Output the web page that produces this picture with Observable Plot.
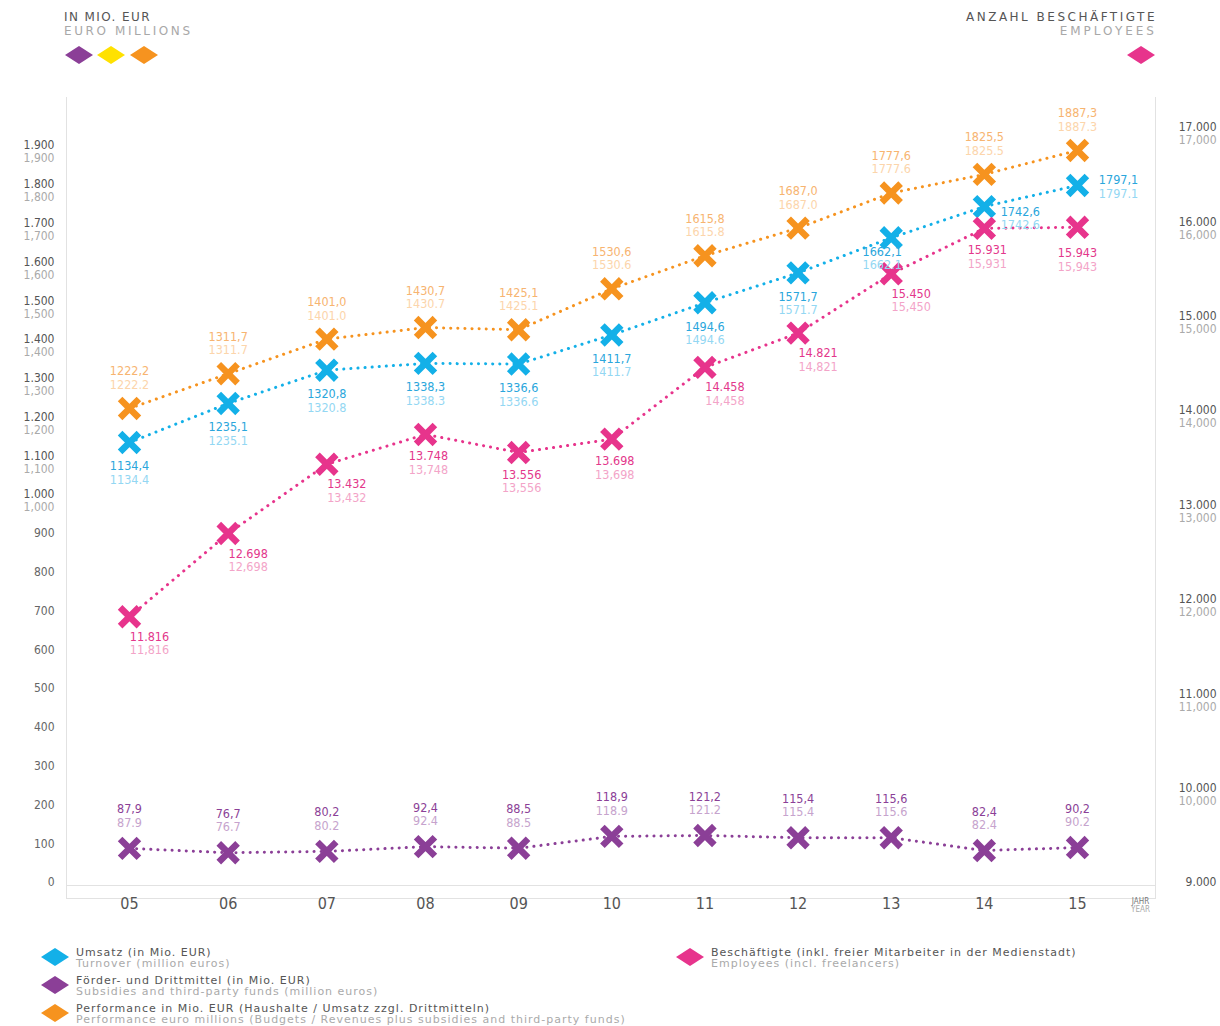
<!DOCTYPE html>
<html>
<head>
<meta charset="utf-8">
<script src="https://cdn.jsdelivr.net/npm/d3@7"></script>
<script src="https://cdn.jsdelivr.net/npm/@observablehq/plot@0.6"></script>
<style>
  html, body { margin: 0; padding: 0; background: #fff; }
  body { width: 1220px; height: 1026px; position: relative; overflow: hidden; font-family: "DejaVu Sans", sans-serif; }
  .hdr { position: absolute; font-size: 12px; line-height: 14px; white-space: nowrap; }
  .dark { color: #555; }
  .light { color: #a8a8a8; }
  #chart { position: absolute; left: 0; top: 85px; }
  .leg { position: absolute; font-size: 11px; line-height: 11px; white-space: nowrap; letter-spacing: 1px; }
  .leg .l1 { color: #555; }
  .leg .l2 { color: #aaa; }
  .dia { position: absolute; }
</style>
</head>
<body>
<div class="hdr" style="left:64px; top:10px;">
  <div class="dark" style="letter-spacing:1.4px;">IN MIO. EUR</div>
  <div class="light" style="letter-spacing:2.6px;">EURO MILLIONS</div>
</div>
<div class="hdr" style="right:63px; top:10px; text-align:right;">
  <div class="dark" style="letter-spacing:2.5px;">ANZAHL BESCHÄFTIGTE</div>
  <div class="light" style="letter-spacing:3px;">EMPLOYEES</div>
</div>
<div id="chart"></div>
<div id="hdrDiamonds"></div>
<div id="legend"></div>
<script>
// ---------- data ----------
const years = [2005, 2006, 2007, 2008, 2009, 2010, 2011, 2012, 2013, 2014, 2015];
const turnover = [1134.4, 1235.1, 1320.8, 1338.3, 1336.6, 1411.7, 1494.6, 1571.7, 1662.1, 1742.6, 1797.1];
const subsidies = [87.9, 76.7, 80.2, 92.4, 88.5, 118.9, 121.2, 115.4, 115.6, 82.4, 90.2];
const performance = [1222.2, 1311.7, 1401.0, 1430.7, 1425.1, 1530.6, 1615.8, 1687.0, 1777.6, 1825.5, 1887.3];
const employees = [11816, 12698, 13432, 13748, 13556, 13698, 14458, 14821, 15450, 15931, 15943];
const leftTicks = [0, 100, 200, 300, 400, 500, 600, 700, 800, 900, 1000, 1100, 1200, 1300, 1400, 1500, 1600, 1700, 1800, 1900];
const rightTicks = [9000, 10000, 11000, 12000, 13000, 14000, 15000, 16000, 17000];

const seriesNames = {
  turnover: ["Umsatz (in Mio. EUR)", "Turnover (million euros)"],
  subsidies: ["Förder- und Drittmittel (in Mio. EUR)", "Subsidies and third-party funds (million euros)"],
  performance: ["Performance in Mio. EUR (Haushalte / Umsatz zzgl. Drittmitteln)", "Performance euro millions (Budgets / Revenues plus subsidies and third-party funds)"],
  employees: ["Beschäftigte (inkl. freier Mitarbeiter in der Medienstadt)", "Employees (incl. freelancers)"]
};

// ---------- styles ----------
const C = {
  turnover: "#13b0e8", turnoverL: "#93d7f3", turnoverD: "#2aa6dc",
  subsidies: "#8b3f97", subsidiesL: "#c6a3cd", subsidiesD: "#8b3f97",
  performance: "#f6931f", performanceL: "#fcd5ab", performanceD: "#f7b470",
  employees: "#e7348c", employeesL: "#f3a4c8", employeesD: "#e3378b",
  yellow: "#ffe100"
};

// right axis (employees) mapped onto left axis units: 9.000 ↔ 0, 17.000 ↔ 1946.4
const EMP_BASE = 9000;
const EMP_SCALE = 1946.4 / 8000;
const empY = e => (e - EMP_BASE) * EMP_SCALE;

const rows = years.map((year, i) => ({
  year,
  turnover: turnover[i],
  subsidies: subsidies[i],
  performance: performance[i],
  employees: employees[i],
  empY: empY(employees[i])
}));

const fmt1 = v => v.toFixed(1);
const de1 = v => fmt1(v).replace(".", ",");
const deInt = v => d3.format(",")(v).replace(/,/g, ".");
const enInt = v => d3.format(",")(v);

const FONT = "'DejaVu Sans Condensed', 'DejaVu Sans', sans-serif";
const LBL = 12.5;

function labelPair(data, yKey, f1, f2, c1, c2, dx, dy, extra = {}) {
  return [
    Plot.text(data, {x: "year", y: yKey, text: d => f1(d), dx, dy, fill: c1, fontSize: LBL, letterSpacing: 0.6, ...extra}),
    Plot.text(data, {x: "year", y: yKey, text: d => f2(d), dx, dy: dy + 13.5, fill: c2, fontSize: LBL, letterSpacing: 0.6, ...extra})
  ];
}

// label placement per year (style only)
const pinkRight = new Set([2005, 2006, 2007, 2011, 2012, 2013]);
const cyanStd = rows.filter(d => d.year <= 2012);

const dotted = {strokeWidth: 3, strokeDasharray: "0.1,7", strokeLinecap: "round"};
const crossOpts = c => ({x: "year", symbol: "times", r: 8.6, stroke: c, strokeWidth: 6.5});

const chart = Plot.plot({
  width: 1220,
  height: 845,
  marginLeft: 66,
  marginRight: 65,
  marginTop: 12,
  marginBottom: 32,
  x: {type: "linear", domain: [2004.335, 2005, 2008, 2015, 2015.82], range: [66, 129, 425, 1077, 1155], axis: null},
  y: {domain: [-41.2, 2023.8], axis: null},
  style: {fontFamily: FONT, background: "transparent", overflow: "visible"},
  marks: [
    Plot.frame({anchor: "left", stroke: "#e2e2e2"}),
    Plot.frame({anchor: "right", stroke: "#e2e2e2"}),
    Plot.frame({anchor: "bottom", stroke: "#e2e2e2"}),
    Plot.ruleY([0], {stroke: "#e2e2e2", dy: 3}),

    // left axis
    Plot.text(leftTicks, {y: d => d, frameAnchor: "left", dx: -12, textAnchor: "end",
      text: d => d >= 1000 ? deInt(d) : String(d), fill: d => d >= 1000 ? "#555" : "#666", fontSize: 12, letterSpacing: 1.6}),
    Plot.text(leftTicks.filter(d => d >= 1000), {y: d => d, frameAnchor: "left", dx: -12, dy: 13, textAnchor: "end",
      text: d => enInt(d), fill: "#aaa", fontSize: 12, letterSpacing: 1.6}),
    // right axis
    Plot.text(rightTicks, {y: d => empY(d), frameAnchor: "right", dx: 61, textAnchor: "end",
      text: d => deInt(d), fill: "#555", fontSize: 12, letterSpacing: 1.2}),
    Plot.text(rightTicks.filter(d => d >= 10000), {y: d => empY(d), frameAnchor: "right", dx: 61, dy: 13, textAnchor: "end",
      text: d => enInt(d), fill: "#aaa", fontSize: 12, letterSpacing: 1.2}),

    // x axis
    Plot.text(years, {x: d => d, frameAnchor: "bottom", dy: 10, text: d => String(d % 100).padStart(2, "0"),
      fill: "#555", fontSize: 16, fontFamily: "'DejaVu Sans Condensed', sans-serif"}),
    Plot.text(["JAHR"], {frameAnchor: "bottom-right", dx: -15, dy: 5, text: d => d, fill: "#777", fontSize: 8, textAnchor: "middle"}),
    Plot.text(["YEAR"], {frameAnchor: "bottom-right", dx: -15, dy: 13, text: d => d, fill: "#aaa", fontSize: 8, textAnchor: "middle"}),

    // dotted lines
    Plot.line(rows, {x: "year", y: "performance", stroke: C.performance, ...dotted}),
    Plot.line(rows, {x: "year", y: "turnover", stroke: C.turnover, ...dotted}),
    Plot.line(rows, {x: "year", y: "empY", stroke: C.employees, ...dotted}),
    Plot.line(rows, {x: "year", y: "subsidies", stroke: C.subsidies, ...dotted}),

    // markers
    Plot.dot(rows, {...crossOpts(C.performance), y: "performance"}),
    Plot.dot(rows, {...crossOpts(C.turnover), y: "turnover"}),
    Plot.dot(rows, {...crossOpts(C.employees), y: "empY"}),
    Plot.dot(rows, {...crossOpts(C.subsidies), y: "subsidies"}),

    // labels: performance (above)
    ...labelPair(rows, "performance", d => de1(d.performance), d => fmt1(d.performance), C.performanceD, C.performanceL, 0, -37),
    // labels: subsidies (above)
    ...labelPair(rows, "subsidies", d => de1(d.subsidies), d => fmt1(d.subsidies), C.subsidiesD, C.subsidiesL, 0, -39),
    // labels: turnover (below, end ones to the right)
    ...labelPair(cyanStd, "turnover", d => de1(d.turnover), d => fmt1(d.turnover), C.turnoverD, C.turnoverL, 0, 24),
    ...labelPair(rows.filter(d => d.year === 2013), "turnover", d => de1(d.turnover), d => fmt1(d.turnover), C.turnoverD, C.turnoverL, -9, 14),
    ...labelPair(rows.filter(d => d.year === 2014), "turnover", d => de1(d.turnover), d => fmt1(d.turnover), C.turnoverD, C.turnoverL, 36, 5),
    ...labelPair(rows.filter(d => d.year === 2015), "turnover", d => de1(d.turnover), d => fmt1(d.turnover), C.turnoverD, C.turnoverL, 41, -5),
    // labels: employees (below)
    ...labelPair(rows.filter(d => pinkRight.has(d.year)), "empY", d => deInt(d.employees), d => enInt(d.employees), C.employeesD, C.employeesL, 20, 20),
    ...labelPair(rows.filter(d => !pinkRight.has(d.year) && d.year !== 2015), "empY", d => deInt(d.employees), d => enInt(d.employees), C.employeesD, C.employeesL, 3, 22),
    ...labelPair(rows.filter(d => d.year === 2015), "empY", d => deInt(d.employees), d => enInt(d.employees), C.employeesD, C.employeesL, 0, 26)
  ]
});
document.getElementById("chart").appendChild(chart);

// ---------- diamonds ----------
function diamond(cx, cy, color, w = 28, h = 18) {
  const ns = "http://www.w3.org/2000/svg";
  const s = document.createElementNS(ns, "svg");
  s.setAttribute("width", w); s.setAttribute("height", h);
  s.setAttribute("class", "dia");
  s.style.left = (cx - w / 2) + "px"; s.style.top = (cy - h / 2) + "px";
  const p = document.createElementNS(ns, "polygon");
  p.setAttribute("points", `${w/2},0 ${w},${h/2} ${w/2},${h} 0,${h/2}`);
  p.setAttribute("fill", color);
  s.appendChild(p);
  return s;
}
const hd = document.getElementById("hdrDiamonds");
hd.appendChild(diamond(79, 55, C.subsidies));
hd.appendChild(diamond(111, 55, C.yellow));
hd.appendChild(diamond(144, 55, C.performance));
hd.appendChild(diamond(1141, 55, C.employees));

// ---------- legend ----------
const lg = document.getElementById("legend");
const legendItems = [
  {key: "turnover", color: C.turnover, x: 55, y: 957},
  {key: "subsidies", color: C.subsidies, x: 55, y: 985},
  {key: "performance", color: C.performance, x: 55, y: 1013},
  {key: "employees", color: C.employees, x: 690, y: 957}
];
legendItems.forEach(it => {
  lg.appendChild(diamond(it.x, it.y, it.color));
  const div = document.createElement("div");
  div.className = "leg";
  div.style.left = (it.x + 21) + "px";
  div.style.top = (it.y - 10) + "px";
  div.innerHTML = `<div class="l1">${seriesNames[it.key][0]}</div><div class="l2">${seriesNames[it.key][1]}</div>`;
  lg.appendChild(div);
});
</script>
</body>
</html>
